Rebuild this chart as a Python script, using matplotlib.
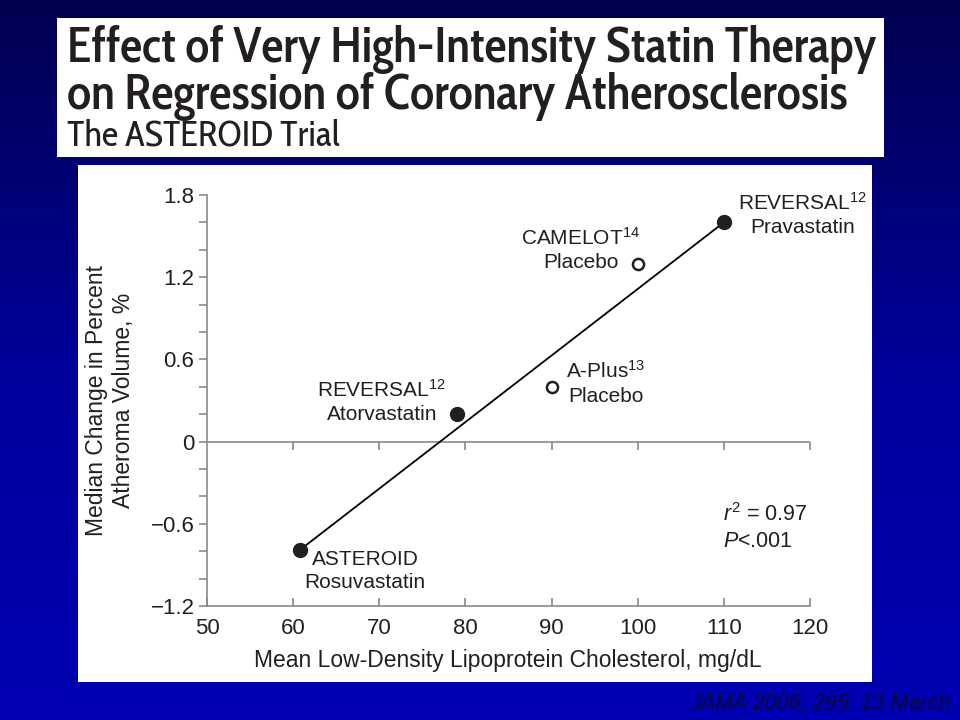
import numpy as np
import matplotlib
matplotlib.use("Agg")
from matplotlib import pyplot as plt
from matplotlib import font_manager
from matplotlib.patches import Rectangle
from matplotlib.colors import LinearSegmentedColormap

# ===== DATA =====
ldl = [60.8, 79, 90, 100, 110]
atheroma = [-0.79, 0.2, 0.4, 1.3, 1.6]
filled = [True, True, False, False, True]
labels = ["ASTEROID\nRosuvastatin", "REVERSAL$^{12}$\nAtorvastatin", "A-Plus$^{13}$\nPlacebo",
          "CAMELOT$^{14}$\nPlacebo", "REVERSAL$^{12}$\nPravastatin"]
# label offsets in pixels from the marker
label_off = [(65, -21), (-75, 13), (54, 4), (-57, 14), (79, 8)]
fit_x = [60.8, 110]
fit_y = [-0.79, 1.6]
xticks = [50, 60, 70, 80, 90, 100, 110, 120]
yticks = [-1.2, -0.6, 0, 0.6, 1.2, 1.8]
ytick_labels = ["\u22121.2", "\u22120.6", "0", "0.6", "1.2", "1.8"]

sans = "Liberation Sans"
available = {f.name for f in font_manager.fontManager.ttflist}
title_font = "Cabin Condensed" if "Cabin Condensed" in available else sans

plt.rcParams["font.family"] = [sans, "DejaVu Sans"]
plt.rcParams["mathtext.fontset"] = "custom"
plt.rcParams["mathtext.rm"] = sans
plt.rcParams["mathtext.it"] = sans + ":italic"

fig = plt.figure(figsize=(9.6, 7.2), dpi=100)

# ===== BACKGROUND GRADIENT =====
bg = fig.add_axes([0, 0, 1, 1], zorder=-10)
grad = np.linspace(0, 1, 256).reshape(-1, 1)
cmap = LinearSegmentedColormap.from_list("bg", ["#000050", "#00009a", "#0000b4"])
bg.imshow(grad, aspect="auto", cmap=cmap, extent=[0, 1, 0, 1], origin="upper")
bg.set_axis_off()

fig.patches.append(Rectangle((57/960, 1-157/720), 827/960, 139/720, transform=fig.transFigure,
                             facecolor="white", edgecolor="none", zorder=-5))
fig.patches.append(Rectangle((78/960, 1-682/720), 794/960, 517/720, transform=fig.transFigure,
                             facecolor="white", edgecolor="none", zorder=-5))

# ===== TITLE =====
t1 = fig.text(67/960, 1-62/720, "Effect of Very High-Intensity Statin Therapy", family=title_font,
              weight=600, style="normal", fontsize=30, va="baseline", ha="left", color="#231f20")
t2 = fig.text(67/960, 1-109/720, "on Regression of Coronary Atherosclerosis", family=title_font,
              weight=600, style="normal", fontsize=30, va="baseline", ha="left", color="#231f20")
t3 = fig.text(67/960, 1-146/720, "The ASTEROID Trial", family=title_font, weight=400,
              style="normal", fontsize=22, va="baseline", ha="left", color="#231f20")
fig.canvas.draw()
r = fig.canvas.get_renderer()
for t, w in [(t1, 810), (t2, 781), (t3, 273)]:
    cur = t.get_window_extent(r).width
    t.set_fontsize(t.get_fontsize() * w / cur)

# ===== PLOT =====
ax = fig.add_axes([207/960, 1-606/720, 603/960, 411/720])
ax.set_xlim(50, 120)
ax.set_ylim(-1.2, 1.8)
ax.patch.set_visible(False)
gray = "#8a8a8a"
for s in ["top", "right"]:
    ax.spines[s].set_visible(False)
for s in ["left", "bottom"]:
    ax.spines[s].set_color(gray)
    ax.spines[s].set_linewidth(1.2)

ax.axhline(0, color=gray, linewidth=1.2, zorder=1)
ax.plot(xticks[1:], [0]*len(xticks[1:]), linestyle="none", marker=3, markersize=6,
        color=gray, markeredgewidth=1.2, zorder=1)

ax.plot(fit_x, fit_y, color="black", linewidth=1.3, zorder=2)
for x, y, f in zip(ldl, atheroma, filled):
    if f:
        ax.plot(x, y, "o", markersize=10, color="#231f20", zorder=3)
    else:
        ax.plot(x, y, "o", markersize=8, markerfacecolor="white", markeredgecolor="#231f20",
                markeredgewidth=1.8, zorder=3)

for x, y, lab, (dx, dy) in zip(ldl, atheroma, labels, label_off):
    ax.annotate(lab, (x, y), xytext=(dx, dy), textcoords="offset pixels", ha="center", va="center",
                fontsize=15, color="#231f20", linespacing=1.3)

ax.text(0.856, 0.19, "$\\mathit{r}^2$ = 0.97\n$\\mathit{P}$<.001", transform=ax.transAxes,
        fontsize=15.5, va="center", ha="left", color="#231f20", linespacing=1.3)

ax.set_xticks(xticks)
ax.set_yticks(yticks)
ax.set_yticklabels(ytick_labels)
ax.set_yticks(np.arange(-1.2, 1.81, 0.2), minor=True)
ax.tick_params(axis="x", direction="in", length=6, width=1.2, color=gray, labelsize=16,
               pad=9, labelcolor="#231f20")
ax.tick_params(axis="y", which="both", direction="out", length=6, width=1.2, color=gray,
               labelsize=16, pad=3, labelcolor="#231f20")

fig.text(110/960, 1-400/720, "Median Change in Percent\nAtheroma Volume, %", rotation=90,
         ha="center", va="center", fontsize=16.5, color="#231f20", linespacing=1.25)
fig.text(508/960, 1-661/720, "Mean Low-Density Lipoprotein Cholesterol, mg/dL",
         ha="center", va="center", fontsize=16.5, color="#231f20")

fig.text(950/960, 1-703/720, "JAMA 2006; 295: 13 March", style="italic", ha="right", va="center",
         fontsize=15.5, color="#0a0a30")

plt.savefig("out.png", dpi=100)
